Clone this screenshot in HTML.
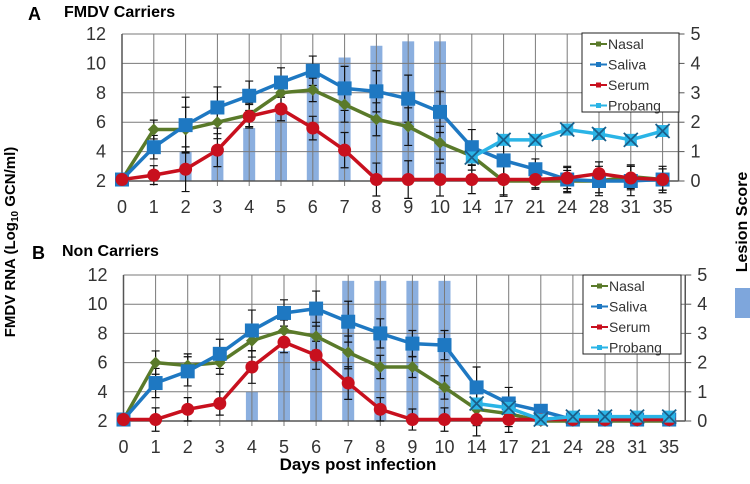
<!DOCTYPE html>
<html><head><meta charset="utf-8"><style>
body{margin:0;background:#fff}
svg{display:block}
text{font-family:"Liberation Sans",sans-serif}
text.n{font-family:"Liberation Sans Narrow","Liberation Sans",sans-serif}
</style></head><body>
<svg id="c" width="750" height="484" viewBox="0 0 750 484" xmlns="http://www.w3.org/2000/svg"></svg>
<script>
const days = ["0","1","2","3","4","5","6","7","8","9","10","14","17","21","24","28","31","35"];
const yTicks = [2,4,6,8,10,12];
const rTicks = [0,1,2,3,4,5];
const aNasal  = [2.1,5.5,5.5,6.0,6.5,8.0,8.2,7.2,6.2,5.7,4.6,3.7,2.0,2.0,2.0,2.0,2.3,2.1];
const aSaliva = [2.1,4.3,5.8,7.0,7.8,8.7,9.5,8.3,8.1,7.6,6.7,4.3,3.4,2.8,2.1,2.0,2.0,2.1];
const aSerum  = [2.1,2.4,2.8,4.1,6.4,6.9,5.6,4.1,2.1,2.1,2.1,2.1,2.1,2.1,2.2,2.5,2.2,2.1];
const aProbang= [null,null,null,null,null,null,null,null,null,null,null,3.6,4.8,4.8,5.5,5.2,4.8,5.4];
const aLesion = [0,0,1.0,1.0,1.8,2.3,3.6,4.2,4.6,4.75,4.75,0,0,0,0,0,0,0];
const aErr    = [0,0.8,1.9,1.4,1.0,1.0,1.0,1.5,1.4,1.6,1.4,1.2,1.3,0.7,0.9,1.0,1.0,0.9];
const bNasal  = [2.1,6.0,5.8,6.0,7.5,8.2,7.8,6.7,5.7,5.7,4.3,2.8,2.5,2.0,2.0,2.0,2.0,2.0];
const bSaliva = [2.1,4.6,5.4,6.6,8.2,9.4,9.7,8.8,8.0,7.3,7.2,4.3,3.2,2.7,2.1,2.1,2.1,2.1];
const bSerum  = [2.1,2.1,2.8,3.2,5.7,7.4,6.5,4.6,2.8,2.1,2.1,2.1,2.1,2.1,2.1,2.1,2.1,2.1];
const bProbang= [null,null,null,null,null,null,null,null,null,null,null,3.2,2.9,2.1,2.3,2.3,2.3,2.3];
const bLesion = [0,0,0,0,1.0,2.4,4.0,4.8,4.8,4.8,4.8,0,0,0,0,0,0,0];
const bErr    = [0,1.0,1.0,1.0,1.4,0.9,1.2,1.4,1.0,0.9,1.0,1.4,1.1,0,0,0,0,0];

const svg = document.getElementById('c');
const NS = 'http://www.w3.org/2000/svg';
function mk(tag, attrs, parent){const e=document.createElementNS(NS,tag);for(const k in attrs)e.setAttribute(k,attrs[k]);(parent||svg).appendChild(e);return e;}

const C = {nasal:'#5a7a2a', saliva:'#1e78c2', serum:'#c8101e', probang:'#2ab4e6', bar:'#7ea6dc'};

function panel(p){
  const g = mk('g',{});
  
  
  const x = i => p.x0 + i*p.step;
  const y = v => p.yBot - (v-2)/10*(p.yBot-p.yTop);
  const yr = v => p.yBot - v/5*(p.yBot-p.yTop);
  const xR = p.x0 + 17.5*p.step;
  p.lesion.forEach((v,i)=>{ if(v<=0) return;
    const r = mk('rect',{x:x(i)-6,y:yr(v),width:12,height:p.yBot-yr(v),fill:C.bar,opacity:0.9},g);
    
    
  });
  yTicks.forEach(t=>{ mk('line',{x1:p.x0,x2:xR,y1:y(t),y2:y(t),stroke:'#7a7a7a','stroke-width':1},g);
    const tl = mk('text',{x:p.x0-16,y:y(t)+6,'text-anchor':'end','font-size':18,fill:'#333','class':'n'},g); tl.textContent=t;
     
  });
  days.forEach((d,i)=>{ mk('line',{x1:x(i),x2:x(i),y1:p.yTop,y2:p.yBot+5,stroke:'#7a7a7a','stroke-width':1},g);
    const tl = mk('text',{x:x(i),y:p.yBot+32,'text-anchor':'middle','font-size':18,fill:'#333','class':'n'},g); tl.textContent=d;
     
  });
  mk('line',{x1:p.x0,x2:p.x0,y1:p.yTop,y2:p.yBot,stroke:'#555','stroke-width':1.5},g);
  mk('line',{x1:xR,x2:xR,y1:p.yTop,y2:p.yBot,stroke:'#555','stroke-width':1.5},g);
  mk('line',{x1:p.x0,x2:xR,y1:p.yBot,y2:p.yBot,stroke:'#555','stroke-width':1.5},g);
  rTicks.forEach(t=>{ mk('line',{x1:xR,x2:xR+6,y1:yr(t),y2:yr(t),stroke:'#555'},g);
    const tl = mk('text',{x:xR+12,y:yr(t)+6,'font-size':18,fill:'#333','class':'n'},g); tl.textContent=t;
     
  });
  [[p.saliva,1],[p.nasal,0.8],[p.serum,0.8]].forEach(([s,f])=>{
    s.forEach((v,i)=>{ const e=p.err[i]*f; if(!e) return;
      mk('path',{d:`M${x(i)},${y(v-e)}V${y(v+e)}M${x(i)-4},${y(v-e)}h8M${x(i)-4},${y(v+e)}h8`,stroke:'#111','stroke-width':1.2,fill:'none'},g);
    });
  });
  function series(vals,col,shape,nm){
    const sg = mk('g',{},g);
    
    
    let d=''; vals.forEach((v,i)=>{ if(v==null) return; d += (d?'L':'M')+x(i)+','+y(v); });
    mk('path',{d:d,stroke:col,'stroke-width':3.5,fill:'none','stroke-linejoin':'round'},sg);
    vals.forEach((v,i)=>{ if(v==null) return; const cx=x(i), cy=y(v);
      if(shape==='sq') mk('rect',{x:cx-7,y:cy-7,width:14,height:14,fill:col},sg);
      else if(shape==='ci') mk('circle',{cx:cx,cy:cy,r:6.5,fill:col},sg);
      else if(shape==='di') mk('path',{d:`M${cx},${cy-6}L${cx+6},${cy}L${cx},${cy+6}L${cx-6},${cy}Z`,fill:col},sg);
      else { mk('rect',{x:cx-6,y:cy-6,width:12,height:12,fill:col},sg);
        mk('path',{d:`M${cx-7},${cy-7}L${cx+7},${cy+7}M${cx+7},${cy-7}L${cx-7},${cy+7}`,stroke:'#1a5f8a','stroke-width':1.8},sg); }
    });
  }
  series(p.nasal,C.nasal,'di','nasal-series');
  series(p.saliva,C.saliva,'sq','saliva-series');
  series(p.serum,C.serum,'ci','serum-series');
  series(p.probang,C.probang,'x','probang-series');
  const lg = mk('g',{},g);
  
  
  mk('rect',{x:p.lg[0],y:p.lg[1],width:p.lg[2],height:p.lg[3],fill:'#fff',stroke:'#222','stroke-width':1},lg);
  [['Nasal',C.nasal],['Saliva',C.saliva],['Serum',C.serum],['Probang',C.probang]].forEach((it,k)=>{
    const ly = p.lg[1]+11+k*p.lgGap;
    mk('line',{x1:p.lg[0]+8,x2:p.lg[0]+25,y1:ly,y2:ly,stroke:it[1],'stroke-width':2},lg);
    mk('rect',{x:p.lg[0]+14,y:ly-2.5,width:5,height:5,fill:it[1]},lg);
    const t = mk('text',{x:p.lg[0]+26,y:ly+5,'font-size':14,fill:'#333','class':'n'},lg); t.textContent=it[0];
    
    
  });
}
panel({name:'panel-a-carriers',x0:122,step:31.8,yTop:34,yBot:181,nasal:aNasal,saliva:aSaliva,serum:aSerum,probang:aProbang,lesion:aLesion,err:aErr,lg:[582,33,97,79],lgGap:20.5});
panel({name:'panel-b-non-carriers',x0:123.5,step:32.1,yTop:275,yBot:421,nasal:bNasal,saliva:bSaliva,serum:bSerum,probang:bProbang,lesion:bLesion,err:bErr,lg:[583,275,98,79],lgGap:20.5});
</script>
<div style="position:absolute;left:0;top:0;width:750px;height:484px;pointer-events:none">
<svg width="750" height="484" xmlns="http://www.w3.org/2000/svg">
<text x="28" y="20" font-size="18" font-weight="bold" font-family="Liberation Sans,sans-serif">A</text>
<text x="64" y="17" font-size="16" font-weight="bold" font-family="Liberation Sans,sans-serif">FMDV Carriers</text>
<text x="32" y="259" font-size="18" font-weight="bold" font-family="Liberation Sans,sans-serif">B</text>
<text x="62" y="256" font-size="16" font-weight="bold" font-family="Liberation Sans,sans-serif">Non Carriers</text>
<text transform="translate(15,242) rotate(-90)" text-anchor="middle" font-size="15" font-weight="bold" font-family="Liberation Sans,sans-serif">FMDV RNA (Log<tspan font-size="10" dy="3">10</tspan><tspan dy="-3"> GCN/ml)</tspan></text>
<text transform="translate(747,222) rotate(-90)" text-anchor="middle" font-size="16" font-weight="bold" font-family="Liberation Sans,sans-serif">Lesion Score</text>
<rect x="735" y="288" width="15" height="30" fill="#7ea6dc"/>
<text x="358" y="470" text-anchor="middle" font-size="17" font-weight="bold" font-family="Liberation Sans,sans-serif">Days post infection</text>
</svg></div>
</body></html>
